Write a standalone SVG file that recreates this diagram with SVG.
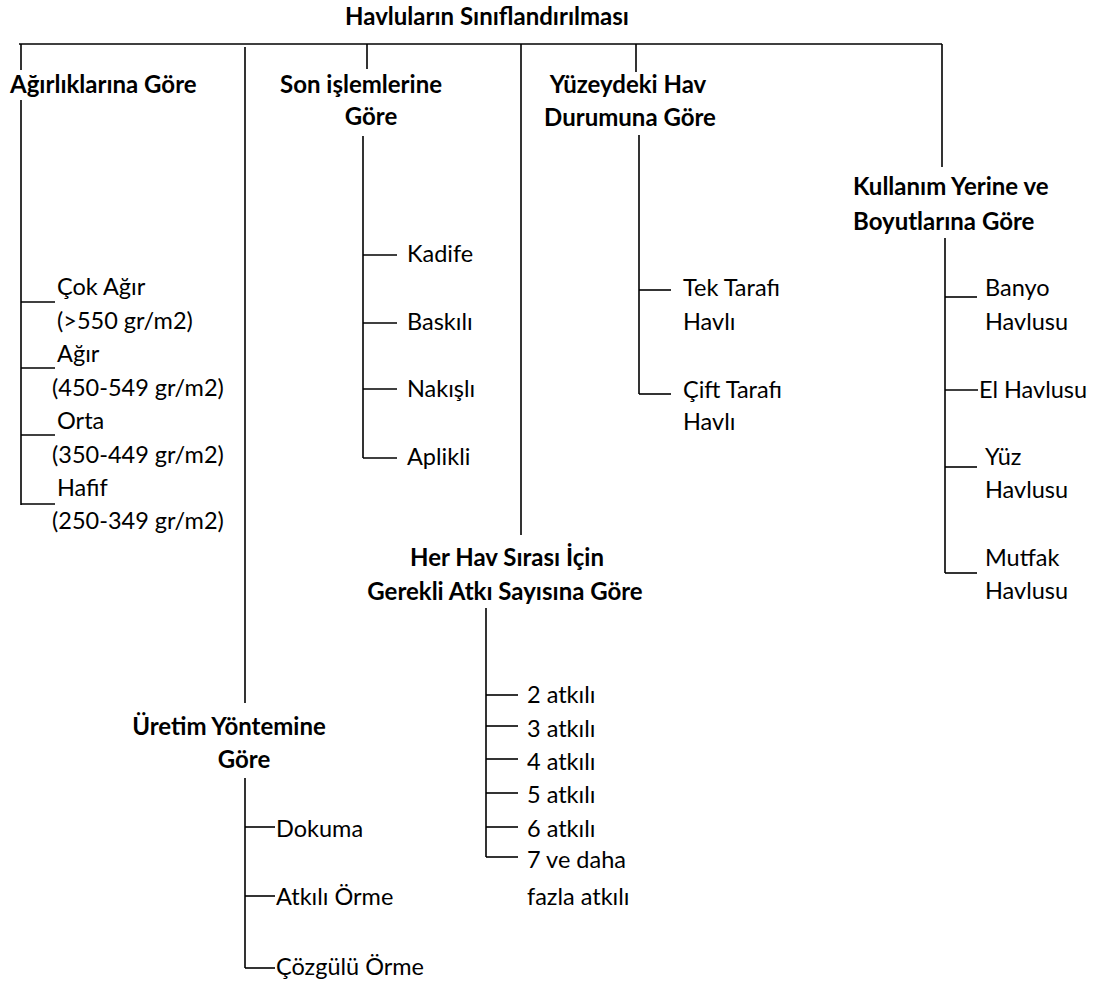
<svg xmlns="http://www.w3.org/2000/svg" width="1095" height="981" viewBox="0 0 1095 981">
<style>
.h{font-family:Lato,"Liberation Sans",sans-serif;font-weight:bold;font-size:24px;fill:#000}
.t{font-family:Lato,"Liberation Sans",sans-serif;font-size:23.5px;fill:#000}
.m{text-anchor:middle}
#connectors line{stroke:#000;stroke-width:1.6;fill:none}
</style>
<rect width="1095" height="981" fill="#fff"/>
<g id="connectors">
<line x1="19" y1="44" x2="942" y2="44"/>
<line x1="21" y1="44" x2="21" y2="70"/>
<line x1="21" y1="100" x2="21" y2="505"/>
<line x1="21" y1="302" x2="55" y2="302"/>
<line x1="21" y1="368" x2="55" y2="368"/>
<line x1="21" y1="435" x2="55" y2="435"/>
<line x1="21" y1="504" x2="55" y2="504"/>
<line x1="245" y1="47" x2="245" y2="703"/>
<line x1="245" y1="778" x2="245" y2="968"/>
<line x1="245" y1="827" x2="275" y2="827"/>
<line x1="245" y1="896" x2="275" y2="896"/>
<line x1="245" y1="968" x2="275" y2="968"/>
<line x1="367" y1="44" x2="367" y2="69"/>
<line x1="363" y1="136" x2="363" y2="458"/>
<line x1="363" y1="255" x2="397" y2="255"/>
<line x1="363" y1="323" x2="397" y2="323"/>
<line x1="363" y1="389" x2="397" y2="389"/>
<line x1="363" y1="458" x2="397" y2="458"/>
<line x1="521" y1="44" x2="521" y2="535"/>
<line x1="486" y1="608" x2="486" y2="857"/>
<line x1="486" y1="695" x2="518" y2="695"/>
<line x1="486" y1="726" x2="518" y2="726"/>
<line x1="486" y1="759" x2="518" y2="759"/>
<line x1="486" y1="793" x2="518" y2="793"/>
<line x1="486" y1="827" x2="518" y2="827"/>
<line x1="486" y1="857" x2="518" y2="857"/>
<line x1="636" y1="44" x2="636" y2="72"/>
<line x1="639" y1="135" x2="639" y2="394"/>
<line x1="639" y1="290" x2="671" y2="290"/>
<line x1="639" y1="394" x2="671" y2="394"/>
<line x1="942" y1="44" x2="942" y2="167"/>
<line x1="945" y1="238" x2="945" y2="573"/>
<line x1="945" y1="297" x2="977" y2="297"/>
<line x1="945" y1="390" x2="978" y2="390"/>
<line x1="945" y1="467" x2="977" y2="467"/>
<line x1="945" y1="573" x2="977" y2="573"/>
</g>
<g id="root"><text class="h m" x="487" y="25">Havluların Sınıflandırılması</text></g>
<g id="agirlik">
<text class="h" x="10" y="93">Ağırlıklarına Göre</text>
</g>
<g id="agirlik-items">
<text class="t" x="57" y="295">Çok Ağır</text>
<text class="t" x="57" y="329">(&gt;550 gr/m2)</text>
<text class="t" x="57" y="362">Ağır</text>
<text class="t" x="52" y="396">(450-549 gr/m2)</text>
<text class="t" x="57" y="429">Orta</text>
<text class="t" x="52" y="463">(350-449 gr/m2)</text>
<text class="t" x="57" y="496">Hafif</text>
<text class="t" x="52" y="529">(250-349 gr/m2)</text>
</g>
<g id="son">
<text class="h m" x="361" y="93">Son işlemlerine</text>
<text class="h m" x="371" y="125">Göre</text>
</g>
<g id="son-items">
<text class="t" x="407" y="262">Kadife</text>
<text class="t" x="407" y="330">Baskılı</text>
<text class="t" x="407" y="397">Nakışlı</text>
<text class="t" x="407" y="465">Aplikli</text>
</g>
<g id="yuzey">
<text class="h m" x="628" y="93">Yüzeydeki Hav</text>
<text class="h m" x="630" y="126">Durumuna Göre</text>
</g>
<g id="yuzey-items">
<text class="t" x="683" y="296">Tek Tarafı</text>
<text class="t" x="683" y="330">Havlı</text>
<text class="t" x="683" y="398">Çift Tarafı</text>
<text class="t" x="683" y="430">Havlı</text>
</g>
<g id="kullanim">
<text class="h" x="853" y="195">Kullanım Yerine ve</text>
<text class="h" x="853" y="230">Boyutlarına Göre</text>
</g>
<g id="kullanim-items">
<text class="t" x="985" y="296">Banyo</text>
<text class="t" x="985" y="330">Havlusu</text>
<text class="t" x="979" y="398">El Havlusu</text>
<text class="t" x="985" y="465">Yüz</text>
<text class="t" x="985" y="498">Havlusu</text>
<text class="t" x="985" y="566">Mutfak</text>
<text class="t" x="985" y="599">Havlusu</text>
</g>
<g id="atki">
<text class="h m" x="507" y="566">Her Hav Sırası İçin</text>
<text class="h m" x="505" y="600">Gerekli Atkı Sayısına Göre</text>
</g>
<g id="atki-items">
<text class="t" x="527" y="703">2 atkılı</text>
<text class="t" x="527" y="737">3 atkılı</text>
<text class="t" x="527" y="770">4 atkılı</text>
<text class="t" x="527" y="803">5 atkılı</text>
<text class="t" x="527" y="837">6 atkılı</text>
<text class="t" x="527" y="868">7 ve daha</text>
<text class="t" x="527" y="905">fazla atkılı</text>
</g>
<g id="uretim">
<text class="h m" x="229" y="735">Üretim Yöntemine</text>
<text class="h m" x="244" y="768">Göre</text>
</g>
<g id="uretim-items">
<text class="t" x="276" y="837">Dokuma</text>
<text class="t" x="276" y="905">Atkılı Örme</text>
<text class="t" x="276" y="975">Çözgülü Örme</text>
</g>
</svg>
